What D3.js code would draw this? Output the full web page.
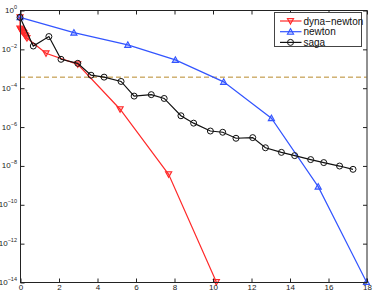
<!DOCTYPE html>
<html>
<head>
<meta charset="utf-8">
<script src="https://cdn.jsdelivr.net/npm/d3@7"></script>
<style>
  body { margin: 0; background: #fff; }
  svg { display: block; font-family: "Liberation Sans", Arial, sans-serif; }
</style>
</head>
<body>
<svg id="chart"></svg>
<script>
// data
const dynaX = [0, 0.0, 0.04, 0.08, 0.12, 0.16, 0.2, 0.25, 0.3, 0.36, 1.35, 3.0, 5.2, 7.72, 10.2];
const dynaY = [4.2e-1, 1.1e-1, 1.0e-1, 8.9e-2, 7.9e-2, 7.1e-2, 6.3e-2, 5.2e-2, 4.5e-2, 3.6e-2, 5.9e-3, 1.6e-3, 7.8e-6, 3.5e-9, 1e-14];

const newtonX = [0, 2.8, 5.6, 8.07, 10.58, 13.06, 15.49, 18];
const newtonY = [4.2e-1, 6.8e-2, 1.6e-2, 2.7e-3, 2.0e-4, 2.7e-6, 8.1e-10, 1e-14];

const sagaX = [0, 0.69, 1.5, 2.13, 3.0, 3.69, 4.37, 5.25, 5.93, 6.82, 7.49, 8.36, 9.02, 9.89,
               10.53, 11.22, 12.09, 12.75, 13.58, 14.27, 15.1, 15.78, 16.6, 17.3];
const sagaY = [4.2e-1, 1.4e-2, 4.3e-2, 2.9e-3, 1.8e-3, 4.4e-4, 3.5e-4, 2.1e-4, 3.7e-5, 4.4e-5, 2.8e-5,
               3.6e-6, 1.5e-6, 5.9e-7, 5.1e-7, 2.5e-7, 2.7e-7, 8.1e-8, 4.7e-8, 3.2e-8, 2.0e-8, 1.4e-8,
               9.3e-9, 6.3e-9];

const threshold = 3.5e-4;

const xTicks = [0, 2, 4, 6, 8, 10, 12, 14, 16, 18];
const yTickExp = [0, -2, -4, -6, -8, -10, -12, -14];

const series = [
    { name: "dyna\u2212newton", xs: dynaX, ys: dynaY, color: "#ff2a2a", marker: "down" },
    { name: "newton", xs: newtonX, ys: newtonY, color: "#3355ff", marker: "up" },
    { name: "saga", xs: sagaX, ys: sagaY, color: "#111", marker: "circle" }
];

const W = 374, H = 292;
const margin = { top: 10, right: 7.5, bottom: 10, left: 20 };
const width = W - margin.left - margin.right;
const height = H - margin.top - margin.bottom;

const svg = d3.select("#chart").attr("width", W).attr("height", H);

const x = d3.scaleLinear().domain([0, 18]).range([0, width]);
const y = d3.scaleLog().domain([1e-14, 1]).range([height, 0]);

svg.append("defs").append("clipPath").attr("id", "clip")
    .append("rect").attr("x", -4).attr("y", -4).attr("width", width + 8).attr("height", height + 8);

const g = svg.append("g").attr("transform", `translate(${margin.left}, ${margin.top})`);

// threshold line
g.append("line")
    .attr("x1", 0).attr("x2", width)
    .attr("y1", y(threshold)).attr("y2", y(threshold))
    .attr("stroke", "#b8892a")
    .attr("stroke-width", 1)
    .attr("stroke-dasharray", "5,3");

const line = d3.line().x(d => x(d[0])).y(d => y(d[1]));

function drawMarker(sel, type, color) {
    if (type === "circle") {
        sel.append("circle").attr("r", 3)
            .attr("fill", "none").attr("stroke", color).attr("stroke-width", 1);
    } else {
        const s = 3.1;
        const p = type === "up"
            ? `M0,${-s} L${s},${s * 0.8} L${-s},${s * 0.8} Z`
            : `M0,${s} L${s},${-s * 0.8} L${-s},${-s * 0.8} Z`;
        sel.append("path").attr("d", p)
            .attr("fill", color).attr("fill-opacity", 0.25)
            .attr("stroke", color).attr("stroke-width", 1.1);
    }
}

const plot = g.append("g").attr("clip-path", "url(#clip)");

series.forEach(s => {
    const pts = s.xs.map((v, i) => [v, s.ys[i]]);
    plot.append("path").datum(pts)
        .attr("d", line)
        .attr("fill", "none")
        .attr("stroke", s.color)
        .attr("stroke-width", 1.2);
    pts.forEach(p => {
        const m = plot.append("g").attr("transform", `translate(${x(p[0])}, ${y(p[1])})`);
        drawMarker(m, s.marker, s.color);
    });
});

// axes box with inward ticks
const axisColor = "#222";
g.append("rect").attr("x", 0.5).attr("y", 0.5)
    .attr("width", width).attr("height", height)
    .attr("fill", "none").attr("stroke", axisColor).attr("stroke-width", 1);

const xAxisB = d3.axisBottom(x).tickValues(xTicks).tickSizeInner(-4).tickSizeOuter(0).tickPadding(2);
const xAxisT = d3.axisTop(x).tickValues(xTicks).tickSizeInner(-4).tickSizeOuter(0).tickFormat("");
const yAxisL = d3.axisLeft(y).tickValues(yTickExp.map(e => Math.pow(10, e))).tickSizeInner(-4).tickSizeOuter(0).tickFormat("");
const yAxisR = d3.axisRight(y).tickValues(yTickExp.map(e => Math.pow(10, e))).tickSizeInner(-4).tickSizeOuter(0).tickFormat("");

function styleAxis(a) {
    a.select(".domain").remove();
    a.selectAll(".tick line").attr("stroke", axisColor);
    a.selectAll(".tick text").attr("fill", "#222").style("font-size", "8px")
        .style("font-family", "'Liberation Sans', Arial, sans-serif");
}

styleAxis(g.append("g").attr("transform", `translate(0.5, ${height + 0.5})`).call(xAxisB));
styleAxis(g.append("g").attr("transform", `translate(0.5, 0.5)`).call(xAxisT));
styleAxis(g.append("g").attr("transform", `translate(0.5, 0.5)`).call(yAxisL));
styleAxis(g.append("g").attr("transform", `translate(${width + 0.5}, 0.5)`).call(yAxisR));

// y tick labels as 10^e
yTickExp.forEach(e => {
    const t = g.append("text")
        .attr("x", -3)
        .attr("y", y(Math.pow(10, e)) + 3)
        .attr("text-anchor", "end")
        .attr("fill", "#222")
        .style("font-size", "8px");
    t.append("tspan").text("10");
    t.append("tspan").attr("dy", -4).style("font-size", "5.5px")
        .text(e === 0 ? "0" : "\u2212" + Math.abs(e));
});

// legend
const lg = svg.append("g").attr("transform", "translate(274.5, 12.5)");
lg.append("rect").attr("width", 87).attr("height", 34)
    .attr("fill", "#fff").attr("stroke", "#444").attr("stroke-width", 1);
series.forEach((s, i) => {
    const ry = 8.5 + i * 10.7;
    lg.append("line").attr("x1", 5.5).attr("x2", 27).attr("y1", ry).attr("y2", ry)
        .attr("stroke", s.color).attr("stroke-width", 1.2);
    drawMarker(lg.append("g").attr("transform", `translate(16, ${ry})`), s.marker, s.color);
    lg.append("text").attr("x", 29).attr("y", ry + 3.5)
        .attr("fill", "#111").style("font-size", "10px").text(s.name);
});
</script>
</body>
</html>
